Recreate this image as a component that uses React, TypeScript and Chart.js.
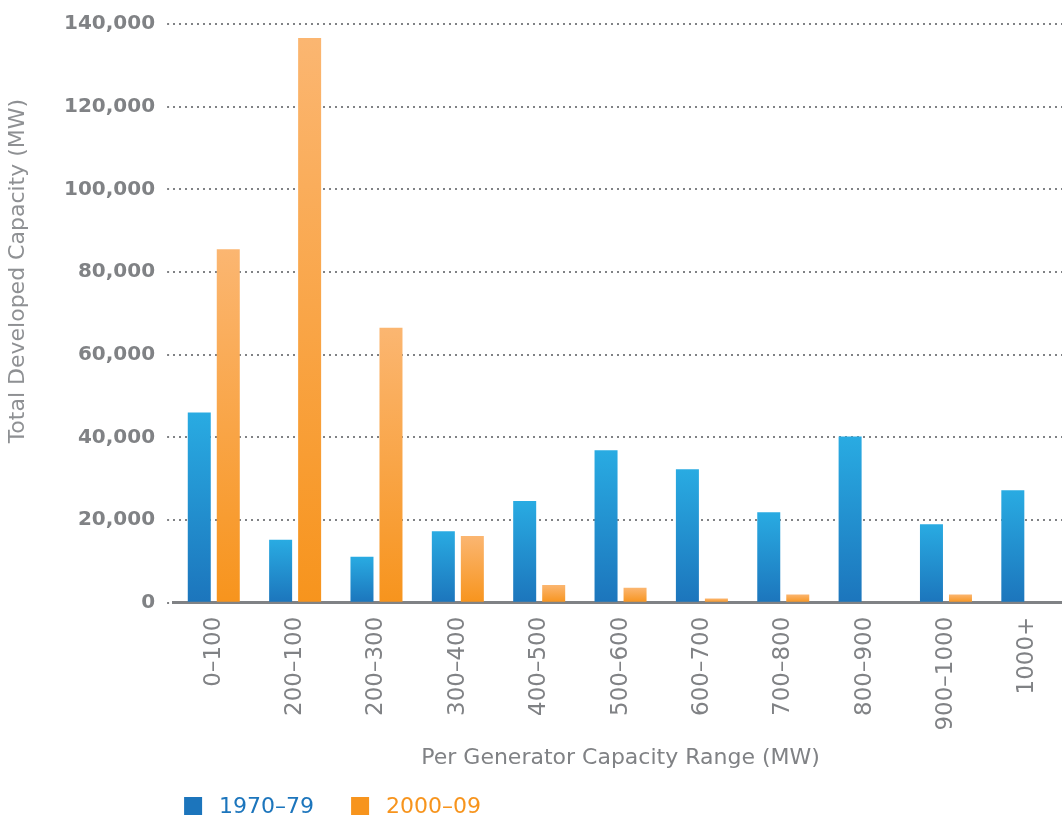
import React, { useEffect, useRef } from "react";
import { Chart, registerables } from "chart.js";

Chart.register(...registerables);

const categories = ["0–100", "200–100", "200–300", "300–400", "400–500", "500–600", "600–700", "700–800", "800–900", "900–1000", "1000+"];
const series1970 = [46000, 15200, 11100, 17300, 24600, 36900, 32300, 21900, 40200, 19000, 27200];
const series2000 = [85500, 136600, 66500, 16100, 4300, 3600, 1000, 2000, 0, 2000, 0];
const seriesLabels = ["1970–79", "2000–09"];
const yTicks = [0, 20000, 40000, 60000, 80000, 100000, 120000, 140000];
const yTitle = "Total Developed Capacity (MW)";
const xTitle = "Per Generator Capacity Range (MW)";

const FONT = '"DejaVu Sans", sans-serif';
const GRAY = "#808285";
const BLUE_TOP = "#29ABE2";
const BLUE_BOT = "#1C75BC";
const ORANGE_TOP = "#FBB671";
const ORANGE_BOT = "#F7941D";
const LEGEND_COLORS = [BLUE_BOT, ORANGE_BOT];

function gradientFor(top: string, bottom: string) {
  return (context: any) => {
    const chart = context.chart;
    const yScale = chart.scales?.y;
    if (!yScale || context.parsed == null || context.type !== "data") return bottom;
    const v = context.parsed.y;
    const yTop = yScale.getPixelForValue(v);
    const yBot = yScale.getPixelForValue(0);
    if (!isFinite(yTop) || !isFinite(yBot) || yTop === yBot) return bottom;
    const g = chart.ctx.createLinearGradient(0, yTop, 0, yBot);
    g.addColorStop(0, top);
    g.addColorStop(1, bottom);
    return g;
  };
}

const decorPlugin = {
  id: "decor",
  afterDraw(chart: any) {
    const { ctx, chartArea } = chart;
    ctx.save();
    // y-axis title
    ctx.font = `22px ${FONT}`;
    ctx.fillStyle = "#8E9093";
    ctx.textAlign = "center";
    ctx.textBaseline = "middle";
    ctx.translate(chartArea.left - 155, chartArea.top + (chartArea.bottom - chartArea.top) * 0.427);
    ctx.rotate(-Math.PI / 2);
    ctx.fillText(yTitle, 0, 0);
    ctx.restore();

    // legend
    ctx.save();
    ctx.font = `22px ${FONT}`;
    ctx.textBaseline = "middle";
    ctx.textAlign = "left";
    let x = chartArea.left + 11;
    const y = chart.height - 14;
    chart.data.datasets.forEach((ds: any, i: number) => {
      ctx.fillStyle = LEGEND_COLORS[i];
      ctx.fillRect(x, y - 9, 18, 18);
      ctx.fillText(ds.label, x + 35, y + 1);
      x += 167;
    });
    ctx.restore();
  },
};

export default function App() {
  const ref = useRef<HTMLCanvasElement | null>(null);
  useEffect(() => {
    if (!ref.current) return;
    const chart = new Chart(ref.current, {
      type: "bar",
      data: {
        labels: categories,
        datasets: [
          {
            label: seriesLabels[0],
            data: series1970,
            backgroundColor: gradientFor(BLUE_TOP, BLUE_BOT) as any,
            categoryPercentage: 0.713,
            barPercentage: 0.793,
          },
          {
            label: seriesLabels[1],
            data: series2000,
            backgroundColor: gradientFor(ORANGE_TOP, ORANGE_BOT) as any,
            categoryPercentage: 0.713,
            barPercentage: 0.793,
          },
        ],
      },
      options: {
        animation: false,
        responsive: true,
        maintainAspectRatio: false,
        layout: { padding: { top: 18, right: 2, bottom: 49, left: 52 } },
        plugins: {
          legend: { display: false },
          tooltip: { enabled: false },
        },
        scales: {
          x: {
            grid: { display: false, drawTicks: false },
            border: { display: true, color: GRAY, width: 3 },
            ticks: {
              color: GRAY,
              font: { family: FONT, size: 23 },
              maxRotation: 90,
              minRotation: 90,
              padding: 14,
              autoSkip: false,
            },
            title: {
              display: true,
              text: xTitle,
              color: GRAY,
              font: { family: FONT, size: 22 },
              padding: { top: 0, bottom: 0 },
            },
          },
          y: {
            min: 0,
            max: 140000,
            afterBuildTicks: (scale: any) => {
              scale.ticks = yTicks.map((v) => ({ value: v }));
            },
            grid: {
              color: GRAY,
              lineWidth: 2,
              drawTicks: true,
              tickLength: 6,
              tickColor: GRAY,
              tickBorderDash: [2, 4],
            },
            border: { display: false, dash: [2, 4] },
            ticks: {
              color: GRAY,
              font: { family: FONT, size: 20, weight: "bold" },
              padding: 12,
              callback: (v: any) => Number(v).toLocaleString("en-US"),
            },
            title: { display: false },
          },
        },
      },
      plugins: [decorPlugin],
    });
    return () => chart.destroy();
  }, []);

  return (
    <div style={{ position: "absolute", left: 0, top: 0, width: 1062, height: 820, overflow: "hidden", background: "#fff" }}>
      <div style={{ position: "relative", width: 1070, height: 820 }}>
        <canvas ref={ref} />
      </div>
    </div>
  );
}
